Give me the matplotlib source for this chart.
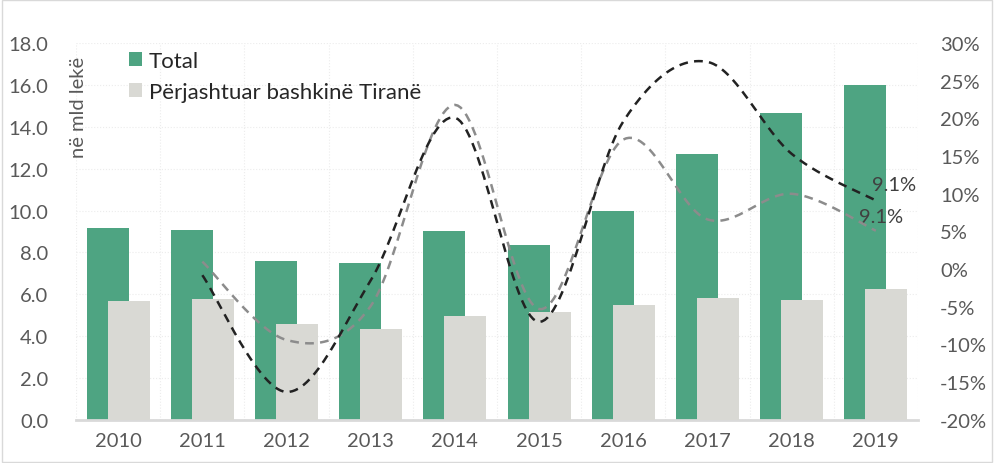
import numpy as np
import matplotlib.pyplot as plt
from matplotlib.patches import Rectangle

years = ["2010", "2011", "2012", "2013", "2014", "2015", "2016", "2017", "2018", "2019"]
total = [9.16, 9.06, 7.58, 7.49, 9.01, 8.35, 9.97, 12.69, 14.65, 15.99]
excl_tirana = [5.67, 5.77, 4.57, 4.33, 4.95, 5.14, 5.48, 5.81, 5.72, 6.24]
# growth rates (%), from 2011 onward
growth_total = [-0.8, -16.3, -1.5, 20.1, -7.0, 19.6, 27.5, 15.3, 9.1]
growth_excl = [1.0, -9.4, -4.9, 21.8, -5.3, 17.2, 6.6, 10.0, 5.1]

GREEN = "#4ea482"
GREY = "#d9d9d4"
TXT = "#595959"
FS = 14.5

plt.rcParams["font.family"] = ["Lato", "DejaVu Sans"]


def smooth(x, y, n=30):
    # excel-like smoothed line (catmull-rom through the points)
    x = np.asarray(x, float)
    y = np.asarray(y, float)
    px = np.concatenate([[x[0]], x, [x[-1]]])
    py = np.concatenate([[y[0]], y, [y[-1]]])
    xs, ys = [], []
    for i in range(1, len(px) - 2):
        t = np.linspace(0, 1, n)
        c1x = px[i] + (px[i + 1] - px[i - 1]) / 6
        c1y = py[i] + (py[i + 1] - py[i - 1]) / 6
        c2x = px[i + 1] - (px[i + 2] - px[i]) / 6
        c2y = py[i + 1] - (py[i + 2] - py[i]) / 6
        b = [(1 - t) ** 3, 3 * (1 - t) ** 2 * t, 3 * (1 - t) * t ** 2, t ** 3]
        xs.append(b[0] * px[i] + b[1] * c1x + b[2] * c2x + b[3] * px[i + 1])
        ys.append(b[0] * py[i] + b[1] * c1y + b[2] * c2y + b[3] * py[i + 1])
    return np.concatenate(xs), np.concatenate(ys)


fig = plt.figure(figsize=(9.94, 4.64), dpi=100)
ax = fig.add_axes([0.0765, 0.093, 0.847, 0.812])
ax2 = ax.twinx()

x = np.arange(len(years))
w = 0.5
ax.bar(x - 0.125, total, w, color=GREEN, label="Total", zorder=2)
ax.bar(x + 0.125, excl_tirana, w, color=GREY, label="Përjashtuar bashkinë Tiranë", zorder=3)

ax.set_xlim(-0.5, len(years) - 0.5)
ax.set_ylim(0, 18)
ax.set_yticks(np.arange(0, 18.1, 2))
ax.set_yticklabels([f"{v:.1f}" for v in np.arange(0, 18.1, 2)])
ax.set_xticks(x)
ax.set_xticklabels(years)
ax.set_xticks(np.arange(-0.5, len(years), 1), minor=True)
ax.grid(True, axis="y", color="#ececec", linestyle=":", linewidth=0.8, zorder=0)
ax.grid(True, axis="x", which="minor", color="#ececec", linestyle=":", linewidth=0.8, zorder=0)
ax.set_axisbelow(True)

for a in (ax, ax2):
    for s in a.spines.values():
        s.set_visible(False)
ax.spines["bottom"].set_visible(True)
ax.spines["bottom"].set_color("#d9d9d9")
ax.spines["bottom"].set_linewidth(2)
ax.tick_params(axis="both", which="both", length=0, labelsize=FS, labelcolor=TXT)
ax.tick_params(axis="y", pad=20)
ax.tick_params(axis="x", pad=9)

gx = x[1:]
sx, sy = smooth(gx, growth_total)
ax2.plot(sx, sy, color="#222222", linestyle=(0, (3.5, 2.5)), linewidth=1.8, zorder=5)
sx, sy = smooth(gx, growth_excl)
ax2.plot(sx, sy, color="#8c8c8c", linestyle=(0, (3.5, 2.5)), linewidth=1.8, zorder=4)
ax2.set_ylim(-20, 30)
ax2.set_yticks(np.arange(-20, 31, 5))
ax2.set_yticklabels([f"{v}%" for v in range(-20, 31, 5)])
ax2.tick_params(axis="y", length=0, labelsize=FS, labelcolor=TXT, pad=16)

ax2.text(x[-1] - 0.05, growth_total[-1] + 1.0, "9.1%", fontsize=FS, color="#404040",
         ha="left", va="bottom")
ax2.text(x[-1] - 0.2, growth_excl[-1] + 0.8, "9.1%", fontsize=FS, color="#404040",
         ha="left", va="bottom")

ax.text(-0.475, 14.95, "në mld lekë", rotation=90, fontsize=FS, color=TXT,
        ha="center", va="center")

leg = ax.legend(loc="upper left", bbox_to_anchor=(0.039, 1.033), frameon=False,
                fontsize=16, handlelength=0.6, handleheight=0.6, handletextpad=0.3,
                labelspacing=0.5)
for t in leg.get_texts():
    t.set_color("#262626")

fig.patches.append(Rectangle((0.002, 0.002), 0.996, 0.996, transform=fig.transFigure,
                             fill=False, edgecolor="#d9d9d9", linewidth=1))

fig.savefig("out.png", dpi=100)
